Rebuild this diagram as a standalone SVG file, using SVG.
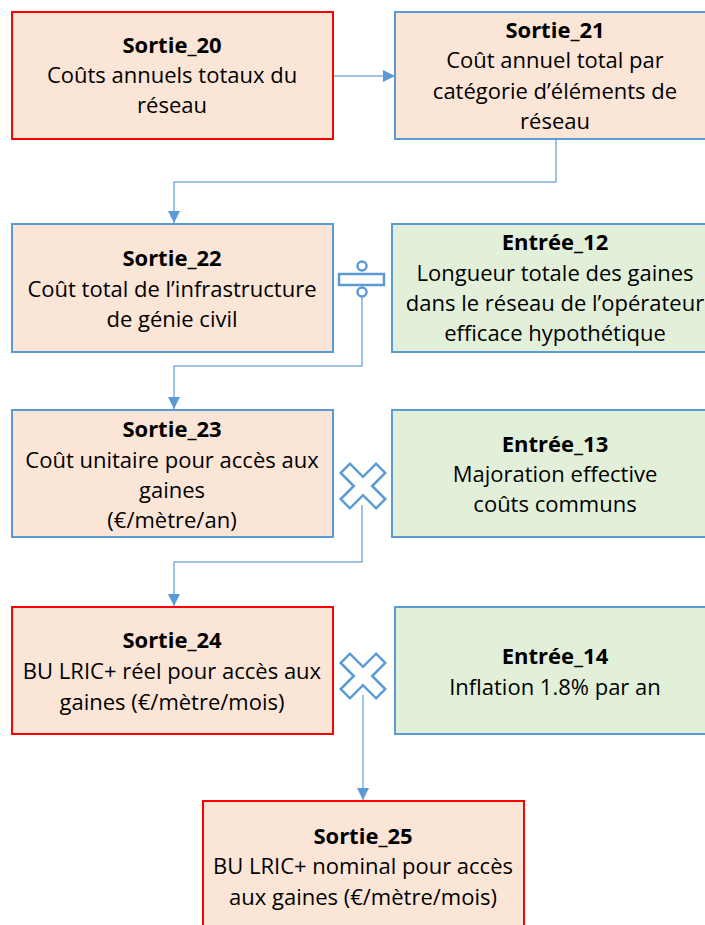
<svg xmlns="http://www.w3.org/2000/svg" width="705" height="925" viewBox="0 0 705 925">
<style>
.out{fill:#FBE5D6}
.inp{fill:#E2F0D9}
.red{stroke:#FF0000;stroke-width:2}
.blue{stroke:#5B9BD5;stroke-width:2}
text{font-family:"Open Sans","Liberation Sans",Arial,sans-serif;font-size:22px;fill:#000;text-anchor:middle}
.t{font-weight:bold}
.conn{fill:none;stroke:#7FB0E0;stroke-width:1.5}
.op{fill:#fff;stroke:#5B9BD5;stroke-width:2.5}
</style>
<defs>
<marker id="ah" viewBox="0 0 10 10" refX="10" refY="5" markerWidth="12" markerHeight="12" markerUnits="userSpaceOnUse" orient="auto">
<path d="M0,0 L10,5 L0,10 z" fill="#5B9BD5"/>
</marker>
</defs>
<g id="connectors">
<path class="conn" d="M333,76 L395,76" marker-end="url(#ah)"/>
<path class="conn" d="M556,140 L556,182 L174,182 L174,223" marker-end="url(#ah)"/>
<path class="conn" d="M362,297 L362,366 L174,366 L174,409" marker-end="url(#ah)"/>
<path class="conn" d="M362,505 L362,562 L174,562 L174,606" marker-end="url(#ah)"/>
<path class="conn" d="M363,695 L363,800" marker-end="url(#ah)"/>
</g>
<g id="sortie20">
<rect class="out red" x="12" y="12" width="321" height="127"/>
<text class="t" x="172" y="53">Sortie_20</text>
<text x="172" y="83">Coûts annuels totaux du</text>
<text x="172" y="113">réseau</text>
</g>
<g id="sortie21">
<rect class="out blue" x="395" y="12" width="315" height="127"/>
<text class="t" x="555" y="38">Sortie_21</text>
<text x="555" y="68">Coût annuel total par</text>
<text x="555" y="99">catégorie d’éléments de</text>
<text x="555" y="129">réseau</text>
</g>
<g id="sortie22">
<rect class="out blue" x="12" y="224" width="321" height="128"/>
<text class="t" x="172" y="266">Sortie_22</text>
<text x="172" y="297">Coût total de l’infrastructure</text>
<text x="172" y="327">de génie civil</text>
</g>
<g id="entree12">
<rect class="inp blue" x="392" y="224" width="318" height="128"/>
<text class="t" x="555" y="250">Entrée_12</text>
<text x="555" y="281">Longueur totale des gaines</text>
<text x="555" y="311">dans le réseau de l’opérateur</text>
<text x="555" y="341">efficace hypothétique</text>
</g>
<g id="op-divide">
<rect class="op" x="339" y="274" width="45" height="11"/>
<circle class="op" cx="362" cy="266" r="4.5" stroke-width="2"/>
<circle class="op" cx="362" cy="292" r="4.5" stroke-width="2"/>
</g>
<g id="sortie23">
<rect class="out blue" x="12" y="410" width="321" height="127"/>
<text class="t" x="172" y="437">Sortie_23</text>
<text x="172" y="468">Coût unitaire pour accès aux</text>
<text x="172" y="498">gaines</text>
<text x="172" y="528">(€/mètre/an)</text>
</g>
<g id="entree13">
<rect class="inp blue" x="392" y="410" width="318" height="127"/>
<text class="t" x="555" y="452">Entrée_13</text>
<text x="555" y="482">Majoration effective</text>
<text x="555" y="512">coûts communs</text>
</g>
<g id="op-multiply1">
<polygon class="op" transform="translate(363,486) rotate(45)" points="6.5,-25 6.5,-6.5 25,-6.5 25,6.5 6.5,6.5 6.5,25 -6.5,25 -6.5,6.5 -25,6.5 -25,-6.5 -6.5,-6.5 -6.5,-25"/>
</g>
<g id="sortie24">
<rect class="out red" x="12" y="607" width="321" height="127"/>
<text class="t" x="172" y="648">Sortie_24</text>
<text x="172" y="679">BU LRIC+ réel pour accès aux</text>
<text x="172" y="710">gaines (€/mètre/mois)</text>
</g>
<g id="entree14">
<rect class="inp blue" x="395" y="607" width="315" height="127"/>
<text class="t" x="555" y="664">Entrée_14</text>
<text x="555" y="695">Inflation 1.8% par an</text>
</g>
<g id="op-multiply2">
<polygon class="op" transform="translate(363,676) rotate(45)" points="6.5,-25 6.5,-6.5 25,-6.5 25,6.5 6.5,6.5 6.5,25 -6.5,25 -6.5,6.5 -25,6.5 -25,-6.5 -6.5,-6.5 -6.5,-25"/>
</g>
<g id="sortie25">
<rect class="out red" x="203" y="801" width="321" height="130"/>
<text class="t" x="363" y="844">Sortie_25</text>
<text x="363" y="874">BU LRIC+ nominal pour accès</text>
<text x="363" y="905">aux gaines (€/mètre/mois)</text>
</g>
</svg>
